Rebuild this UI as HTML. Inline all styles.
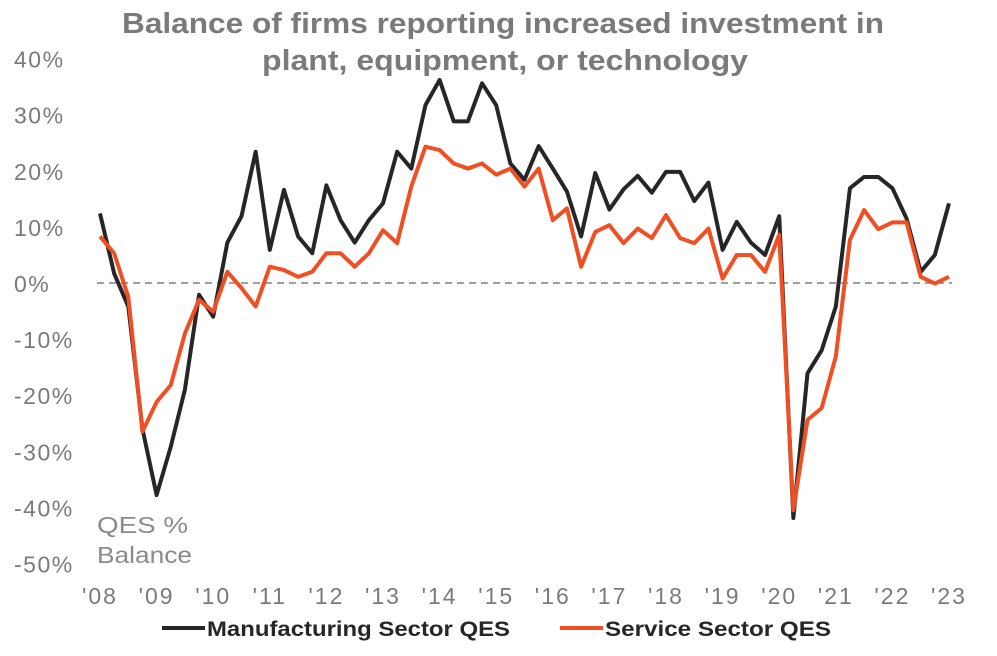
<!DOCTYPE html>
<html><head><meta charset="utf-8"><style>
body{margin:0;background:#fff;font-family:"Liberation Sans",sans-serif;}
svg{display:block}
</style></head><body>
<svg id="chart" width="997" height="656">
<text x="122" y="33" textLength="762" lengthAdjust="spacingAndGlyphs" font-size="29" font-weight="bold" fill="#7a7a7a">Balance of firms reporting increased investment in</text>
<text x="262" y="70" textLength="486" lengthAdjust="spacingAndGlyphs" font-size="29" font-weight="bold" fill="#7a7a7a">plant, equipment, or technology</text>
<g id="yaxis"></g>
<g id="xaxis"></g>
<line x1="97" x2="952" y1="283" y2="283" stroke="#808080" stroke-width="1.5" stroke-dasharray="7,5"/>
<g id="series"></g>
<text x="97" y="533" textLength="91" lengthAdjust="spacingAndGlyphs" font-size="23" fill="#8a8a8a">QES %</text>
<text x="97" y="563" textLength="95" lengthAdjust="spacingAndGlyphs" font-size="23" fill="#8a8a8a">Balance</text>
<g>
<line x1="162" x2="205" y1="628" y2="628" stroke="#262626" stroke-width="4"/>
<text x="207" y="636" textLength="303" lengthAdjust="spacingAndGlyphs" font-size="21" font-weight="bold" fill="#262626">Manufacturing Sector QES</text>
<line x1="560" x2="603" y1="628" y2="628" stroke="#f04e23" stroke-width="4"/>
<text x="605" y="636" textLength="226" lengthAdjust="spacingAndGlyphs" font-size="21" font-weight="bold" fill="#262626">Service Sector QES</text>
</g>
</svg>
<script>
const yTicks=[40,30,20,10,0,-10,-20,-30,-40,-50];
const yearLabels=["'08","'09","'10","'11","'12","'13","'14","'15","'16","'17","'18","'19","'20","'21","'22","'23"];
const manufacturing=[12.4,1.7,-4.2,-26,-37.8,-29.2,-19,-2.1,-6,7.2,11.9,23.4,5.9,16.6,8.3,5.3,17.4,11.2,7.2,11.2,14.2,23.4,20.4,31.7,36.2,28.8,28.8,35.6,31.7,21.3,18.4,24.4,20.4,16.3,8.3,19.6,13.1,16.7,19.1,16.1,19.8,19.8,14.6,17.9,5.9,10.9,7.2,5,11.9,-41.9,-16.1,-12,-4.2,16.9,18.9,18.9,16.9,11.5,2,5,14.2];
const service=[8.3,5.3,-2.5,-26.5,-21.2,-18.2,-9,-3,-5.1,2,-0.9,-4.2,2.9,2.3,1.1,2,5.3,5.3,2.9,5.3,9.4,7.1,17.2,24.3,23.7,21.3,20.4,21.3,19.3,20.4,17.2,20.4,11.2,13.3,2.9,9.1,10.3,7.1,9.7,8,12.1,8,7.1,9.7,0.8,5,5,2,8.6,-40.5,-24.4,-22.3,-13.1,7.7,13,9.6,10.8,10.8,1.1,-0.1,1.1];
const NS="http://www.w3.org/2000/svg";
const yScale=v=>283-v*5.61;
const xScale=i=>100+i*14.15;
const yaxis=document.getElementById('yaxis');
yTicks.forEach(t=>{
 const el=document.createElementNS(NS,'text');
 el.setAttribute('x',14);el.setAttribute('y',yScale(t)+9);
 el.setAttribute('font-size','23');el.setAttribute('fill','#7a7a7a');
 el.setAttribute('letter-spacing','1.5');
 el.textContent=t+'%';
 
 
 yaxis.appendChild(el);
});
const xaxis=document.getElementById('xaxis');
yearLabels.forEach((l,k)=>{
 const el=document.createElementNS(NS,'text');
 el.setAttribute('x',xScale(k*4));el.setAttribute('y',604);
 el.setAttribute('text-anchor','middle');
 el.setAttribute('font-size','23');el.setAttribute('fill','#7a7a7a');
 el.setAttribute('letter-spacing','2');
 el.textContent=l;
 
 
 xaxis.appendChild(el);
});
const g=document.getElementById('series');
[[manufacturing,'#262626','manufacturing-line'],[service,'#f04e23','service-line']].forEach(([d,c,n])=>{
 const p=document.createElementNS(NS,'polyline');
 p.setAttribute('points',d.map((v,i)=>xScale(i)+','+yScale(v)).join(' '));
 p.setAttribute('fill','none');p.setAttribute('stroke',c);
 p.setAttribute('stroke-width','4');p.setAttribute('stroke-linejoin','round');
 
 
 g.appendChild(p);
});
</script>
</body></html>
